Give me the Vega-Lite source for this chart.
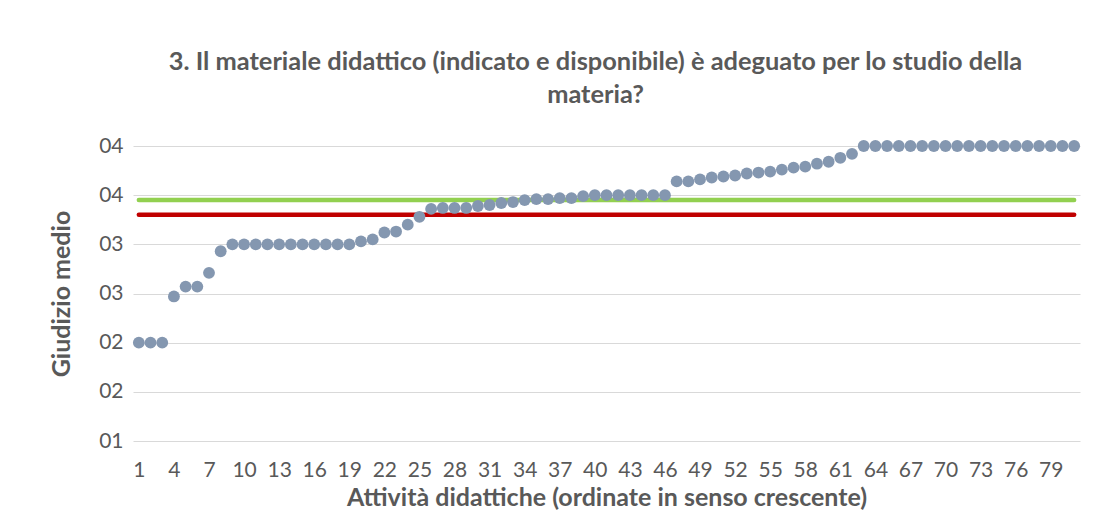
{
  "$schema": "https://vega.github.io/schema/vega-lite/v6.json",
  "autosize": {"type": "none"},
  "width": 947,
  "height": 295,
  "padding": {"left": 133, "top": 146, "right": 24, "bottom": 72},
  "background": "#ffffff",
  "config": {
    "view": {"stroke": null},
    "font": "Lato",
    "axis": {"labelFont": "Lato", "titleFont": "Lato", "labelColor": "#595959", "titleColor": "#595959", "labelFontSize": 21, "titleFontSize": 25, "titleFontWeight": "bold"},
    "axisX": {"labelOverlap": false, "labelFlush": false, "labelBound": false}
  },
  "title": {
    "text": ["3. Il materiale didattico (indicato e disponibile) è adeguato per lo studio della", "materia?"],
    "font": "Lato",
    "fontSize": 25.4,
    "fontWeight": "bold",
    "color": "#595959",
    "anchor": "middle",
    "lineHeight": 33,
    "dx": -11,
    "offset": 27
  },
  "datasets": {
    "punti": [
      {"attivita": 1, "giudizio": 2.0}, {"attivita": 2, "giudizio": 2.0}, {"attivita": 3, "giudizio": 2.0},
      {"attivita": 4, "giudizio": 2.47}, {"attivita": 5, "giudizio": 2.57}, {"attivita": 6, "giudizio": 2.57},
      {"attivita": 7, "giudizio": 2.71}, {"attivita": 8, "giudizio": 2.93}, {"attivita": 9, "giudizio": 3.0},
      {"attivita": 10, "giudizio": 3.0}, {"attivita": 11, "giudizio": 3.0}, {"attivita": 12, "giudizio": 3.0},
      {"attivita": 13, "giudizio": 3.0}, {"attivita": 14, "giudizio": 3.0}, {"attivita": 15, "giudizio": 3.0},
      {"attivita": 16, "giudizio": 3.0}, {"attivita": 17, "giudizio": 3.0}, {"attivita": 18, "giudizio": 3.0},
      {"attivita": 19, "giudizio": 3.0}, {"attivita": 20, "giudizio": 3.03}, {"attivita": 21, "giudizio": 3.05},
      {"attivita": 22, "giudizio": 3.12}, {"attivita": 23, "giudizio": 3.13}, {"attivita": 24, "giudizio": 3.2},
      {"attivita": 25, "giudizio": 3.28}, {"attivita": 26, "giudizio": 3.36}, {"attivita": 27, "giudizio": 3.37},
      {"attivita": 28, "giudizio": 3.37}, {"attivita": 29, "giudizio": 3.37}, {"attivita": 30, "giudizio": 3.39},
      {"attivita": 31, "giudizio": 3.4}, {"attivita": 32, "giudizio": 3.42}, {"attivita": 33, "giudizio": 3.43},
      {"attivita": 34, "giudizio": 3.45}, {"attivita": 35, "giudizio": 3.46}, {"attivita": 36, "giudizio": 3.46},
      {"attivita": 37, "giudizio": 3.47}, {"attivita": 38, "giudizio": 3.47}, {"attivita": 39, "giudizio": 3.49},
      {"attivita": 40, "giudizio": 3.5}, {"attivita": 41, "giudizio": 3.5}, {"attivita": 42, "giudizio": 3.5},
      {"attivita": 43, "giudizio": 3.5}, {"attivita": 44, "giudizio": 3.5}, {"attivita": 45, "giudizio": 3.5},
      {"attivita": 46, "giudizio": 3.5}, {"attivita": 47, "giudizio": 3.64}, {"attivita": 48, "giudizio": 3.64},
      {"attivita": 49, "giudizio": 3.66}, {"attivita": 50, "giudizio": 3.68}, {"attivita": 51, "giudizio": 3.69},
      {"attivita": 52, "giudizio": 3.7}, {"attivita": 53, "giudizio": 3.72}, {"attivita": 54, "giudizio": 3.73},
      {"attivita": 55, "giudizio": 3.74}, {"attivita": 56, "giudizio": 3.76}, {"attivita": 57, "giudizio": 3.78},
      {"attivita": 58, "giudizio": 3.79}, {"attivita": 59, "giudizio": 3.82}, {"attivita": 60, "giudizio": 3.84},
      {"attivita": 61, "giudizio": 3.88}, {"attivita": 62, "giudizio": 3.92}, {"attivita": 63, "giudizio": 4.0},
      {"attivita": 64, "giudizio": 4.0}, {"attivita": 65, "giudizio": 4.0}, {"attivita": 66, "giudizio": 4.0},
      {"attivita": 67, "giudizio": 4.0}, {"attivita": 68, "giudizio": 4.0}, {"attivita": 69, "giudizio": 4.0},
      {"attivita": 70, "giudizio": 4.0}, {"attivita": 71, "giudizio": 4.0}, {"attivita": 72, "giudizio": 4.0},
      {"attivita": 73, "giudizio": 4.0}, {"attivita": 74, "giudizio": 4.0}, {"attivita": 75, "giudizio": 4.0},
      {"attivita": 76, "giudizio": 4.0}, {"attivita": 77, "giudizio": 4.0}, {"attivita": 78, "giudizio": 4.0},
      {"attivita": 79, "giudizio": 4.0}, {"attivita": 80, "giudizio": 4.0}, {"attivita": 81, "giudizio": 4.0}
    ],
    "riferimenti": [
      {"serie": "verde", "giudizio": 3.45, "attivita": 1, "fine": 81},
      {"serie": "rosso", "giudizio": 3.3, "attivita": 1, "fine": 81}
    ]
  },
  "encoding": {
    "x": {"field": "attivita", "type": "quantitative", "scale": {"domain": [0.5, 81.5], "nice": false, "zero": false},
      "axis": {"values": [1,4,7,10,13,16,19,22,25,28,31,34,37,40,43,46,49,52,55,58,61,64,67,70,73,76,79], "grid": false, "ticks": false, "domain": false, "labelPadding": 18, "labelOverlap": false, "title": "Attività didattiche (ordinate in senso crescente)", "titlePadding": 5, "labelFlush": false}},
    "y": {"field": "giudizio", "type": "quantitative", "scale": {"domain": [1, 4], "nice": false, "zero": false},
      "axis": {"values": [1, 1.5, 2, 2.5, 3, 3.5, 4], "format": "02.0f", "grid": true, "gridColor": "#D9D9D9", "gridWidth": 1, "ticks": false, "domain": false, "labelPadding": 10, "title": "Giudizio medio", "titlePadding": 24}}
  },
  "layer": [
    {
      "data": {"name": "riferimenti"},
      "mark": {"type": "rule", "strokeWidth": 4.5, "strokeCap": "round"},
      "encoding": {
        "x2": {"field": "fine"},
        "color": {"field": "serie", "type": "nominal", "scale": {"domain": ["verde", "rosso"], "range": ["#92D050", "#C00000"]}, "legend": null}
      }
    },
    {
      "data": {"name": "punti"},
      "mark": {"type": "circle", "size": 140, "opacity": 1, "color": "#8497B0"},
      "encoding": {}
    }
  ]
}
